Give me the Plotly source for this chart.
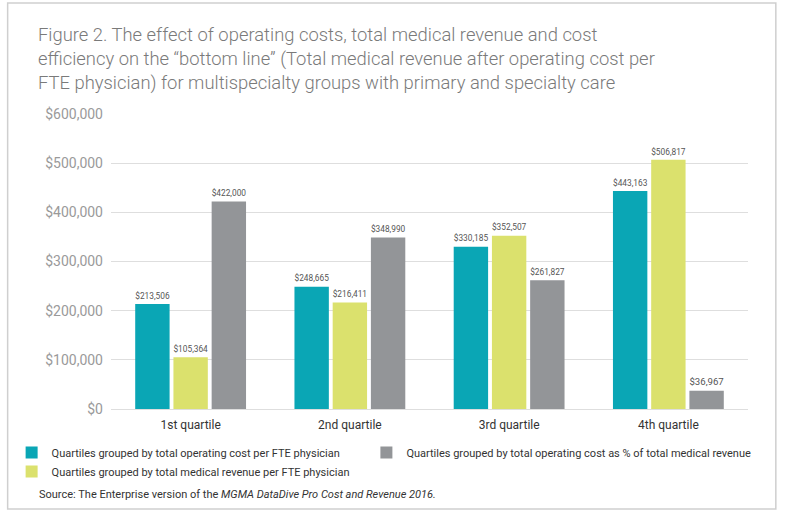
import plotly.graph_objects as go

categories = ["1st quartile", "2nd quartile", "3rd quartile", "4th quartile"]
series_names = [
    "Quartiles grouped by total operating cost per FTE physician",
    "Quartiles grouped by total medical revenue per FTE physician",
    "Quartiles grouped by total operating cost as % of total medical revenue",
]
op_cost = [213506, 248665, 330185, 443163]
med_revenue = [105364, 216411, 352507, 506817]
cost_pct = [422000, 348990, 261827, 36967]
y_ticks = [0, 100000, 200000, 300000, 400000, 500000, 600000]
y_tick_labels = ["$0", "$100,000", "$200,000", "$300,000", "$400,000", "$500,000", "$600,000"]

colors = ["#0aa6b5", "#dbe16d", "#939598"]
FONT = "Roboto, sans-serif"

W, H = 788, 514
L, R, T, B = 107, 40, 114, 105
pw, ph = W - L - R, H - T - B

def px(x):
    return (x - L) / pw

def py(y):
    return (H - B - y) / ph

fig = go.Figure()
for name, vals, col, leg, rank in [
    (series_names[0], op_cost, colors[0], "legend", 1),
    (series_names[1], med_revenue, colors[1], "legend", 2),
    (series_names[2], cost_pct, colors[2], "legend2", 3),
]:
    fig.add_trace(go.Bar(
        x=categories, y=vals, name=name, marker_color=col, marker_line_width=0,
        texttemplate="$%{y:,}", textposition="outside", cliponaxis=False,
        textfont=dict(size=11, color="#555555", family=FONT),
        legend=leg, legendrank=rank,
    ))

fig.update_layout(
    width=W, height=H,
    margin=dict(l=L, r=R, t=T, b=B),
    paper_bgcolor="white", plot_bgcolor="white",
    font=dict(family=FONT, color="#333333"),
    barmode="group", bargap=0.28, bargroupgap=0.1,
    title=dict(
        text=("Figure 2. The effect of operating costs, total medical revenue and cost<br>"
              "efficiency on the \u201cbottom line\u201d (Total medical revenue after operating cost per<br>"
              "FTE physician) for multispecialty groups with primary and specialty care"),
        x=38 / W, xanchor="left", xref="container",
        y=1 - 41 / H, yanchor="top", yref="container",
        font=dict(size=18.4, color="#7a7a7a", family=FONT, weight=300),
    ),
    xaxis=dict(showline=False, ticks="", tickfont=dict(size=12, color="#333333"),
               ticklabelstandoff=7),
    yaxis=dict(range=[0, 600000], tickvals=y_ticks, ticktext=y_tick_labels,
               showgrid=True, gridcolor="#dedede", gridwidth=1,
               zeroline=True, zerolinecolor="#dedede", zerolinewidth=1,
               tickfont=dict(size=14, color="#9a9a9a"), ticklabelstandoff=7),
    legend=dict(x=px(7), y=py(438), xanchor="left", yanchor="top",
                orientation="v", font=dict(size=11, color="#333333"),
                bgcolor="rgba(0,0,0,0)", traceorder="normal"),
    legend2=dict(x=px(364), y=py(438), xanchor="left", yanchor="top",
                 orientation="v", font=dict(size=11, color="#333333"),
                 bgcolor="rgba(0,0,0,0)"),
    showlegend=True,
)

fig.add_shape(type="rect", xref="paper", yref="paper",
              x0=px(3), x1=px(776), y0=py(509), y1=py(3),
              line=dict(color="#cfcfcf", width=1.5), fillcolor="rgba(0,0,0,0)",
              layer="below")

fig.add_annotation(
    text="Source: The Enterprise version of the <i>MGMA DataDive Pro Cost and Revenue 2016.</i>",
    xref="paper", yref="paper", x=px(33), y=py(494), xanchor="left", yanchor="middle",
    showarrow=False, font=dict(size=11, color="#333333", family=FONT),
)

fig.write_html("out.html", config={"displayModeBar": False},
               post_script="document.body.style.margin='0';")
